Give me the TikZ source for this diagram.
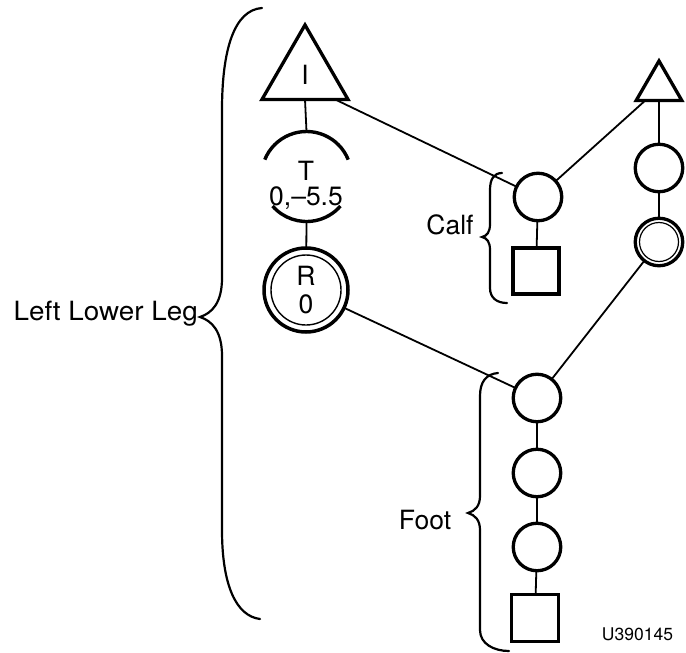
\documentclass[tikz,border=0pt]{standalone}
\usepackage{fontspec}
\setmainfont{TeX Gyre Heros}
\usetikzlibrary{shapes.geometric,calc}
\begin{document}
\begin{tikzpicture}[x=1pt,y=-1pt,
  shp/.style={draw,line width=3.3pt,inner sep=0pt,outer sep=0pt},
  smallcirc/.style={shp,circle,minimum size=47.5pt},
  sq/.style={shp,rectangle,minimum size=46pt},
  tri/.style={shp,regular polygon,regular polygon sides=3},
  conn/.style={line width=1.8pt},
  brace/.style={line width=2.2pt,line cap=round},
  lbl/.style={font=\fontsize{26.5}{28}\selectfont,inner sep=0pt,align=center},
]
\useasboundingbox (0,0) rectangle (686,653);

% left column
\node[tri,minimum size=99.3pt,font=\fontsize{26.5}{28}\selectfont] (I) at (305,74.6) {I};
\node[circle,minimum size=90pt,inner sep=0pt,outer sep=0pt] (T) at (306.5,176.5) {};
\draw[line width=3.4pt] (T.22) arc[start angle=22,end angle=158,radius=45pt];
\draw[line width=3.4pt] (T.221) arc[start angle=221,end angle=319,radius=45pt];
\node[lbl,font=\fontsize{26.5}{25}\selectfont] (Ttxt) at (306,185.5) {T\\0,\textendash5.5};
\node[shp,circle,line width=3.5pt,minimum size=84pt,lbl,font=\fontsize{26.5}{28}\selectfont] (R) at (306,290) {R\\0};
\draw[line width=1.4pt] (R.center) circle[radius=35pt];

% calf
\node[smallcirc] (calf) at (538,197) {};
\node[sq] (calfsq) at (536,271) {};

% right column
\node[tri,minimum size=52.7pt] (t2) at (659,87.3) {};
\node[smallcirc] (c2) at (659,168) {};
\node[smallcirc] (c3) at (659,242) {};
\draw[line width=1.2pt] (c3.center) circle[radius=19.5pt];

% foot
\node[smallcirc] (f1) at (537,398) {};
\node[smallcirc] (f2) at (537,473) {};
\node[smallcirc] (f3) at (537,547) {};
\node[sq,minimum size=47pt] (fsq) at (535,618) {};

% connectors
\draw[conn] (I.south) -- (T.north);
\draw[conn] (T.south) -- (R);
\draw[conn] ($(I.corner 3)!0.3!(I.south)$) -- (calf);
\draw[conn] (calf) -- ($(t2.corner 2)!0.4!(t2.south)$);
\draw[conn] (t2.south) -- (c2);
\draw[conn] (c2) -- (c3);
\draw[conn] (c3) -- (f1);
\draw[conn] (R) -- (f1);
\draw[conn] (calf) -- (calfsq);
\draw[conn] (f1) -- (f2);
\draw[conn] (f2) -- (f3);
\draw[conn] (f3) -- (fsq);

% braces
\draw[brace] (262,8) .. controls (234,10) and (222,50) .. (222,110) -- (222,278)
  .. controls (222,303) and (212,313) .. (200,317)
  .. controls (212,321) and (222,331) .. (222,356) -- (222,530)
  .. controls (222,585) and (236,616) .. (260,619);
\draw[brace] (502,173) .. controls (494,173) and (490,179) .. (490,190) -- (490,224)
  .. controls (490,232) and (487,236) .. (482,237)
  .. controls (487,238) and (490,242) .. (490,250) -- (490,288)
  .. controls (490,298) and (497,303) .. (507,303);
\draw[brace] (498,373) .. controls (486,374) and (480,382) .. (480,396) -- (480,496)
  .. controls (480,506) and (475,511) .. (468,513)
  .. controls (475,515) and (480,520) .. (480,530) -- (480,630)
  .. controls (480,644) and (494,651) .. (509,651);

% labels
\node[lbl,anchor=east] (llleg) at (198,314) {\scalebox{1.05}[1]{Left Lower Leg}};
\node[lbl] (calflbl) at (450,225) {Calf};
\node[lbl] (footlbl) at (425,520) {Foot};
\node[lbl,font=\fontsize{17.5}{20}\selectfont] (code) at (637.5,634) {U390145};
\end{tikzpicture}
\end{document}
